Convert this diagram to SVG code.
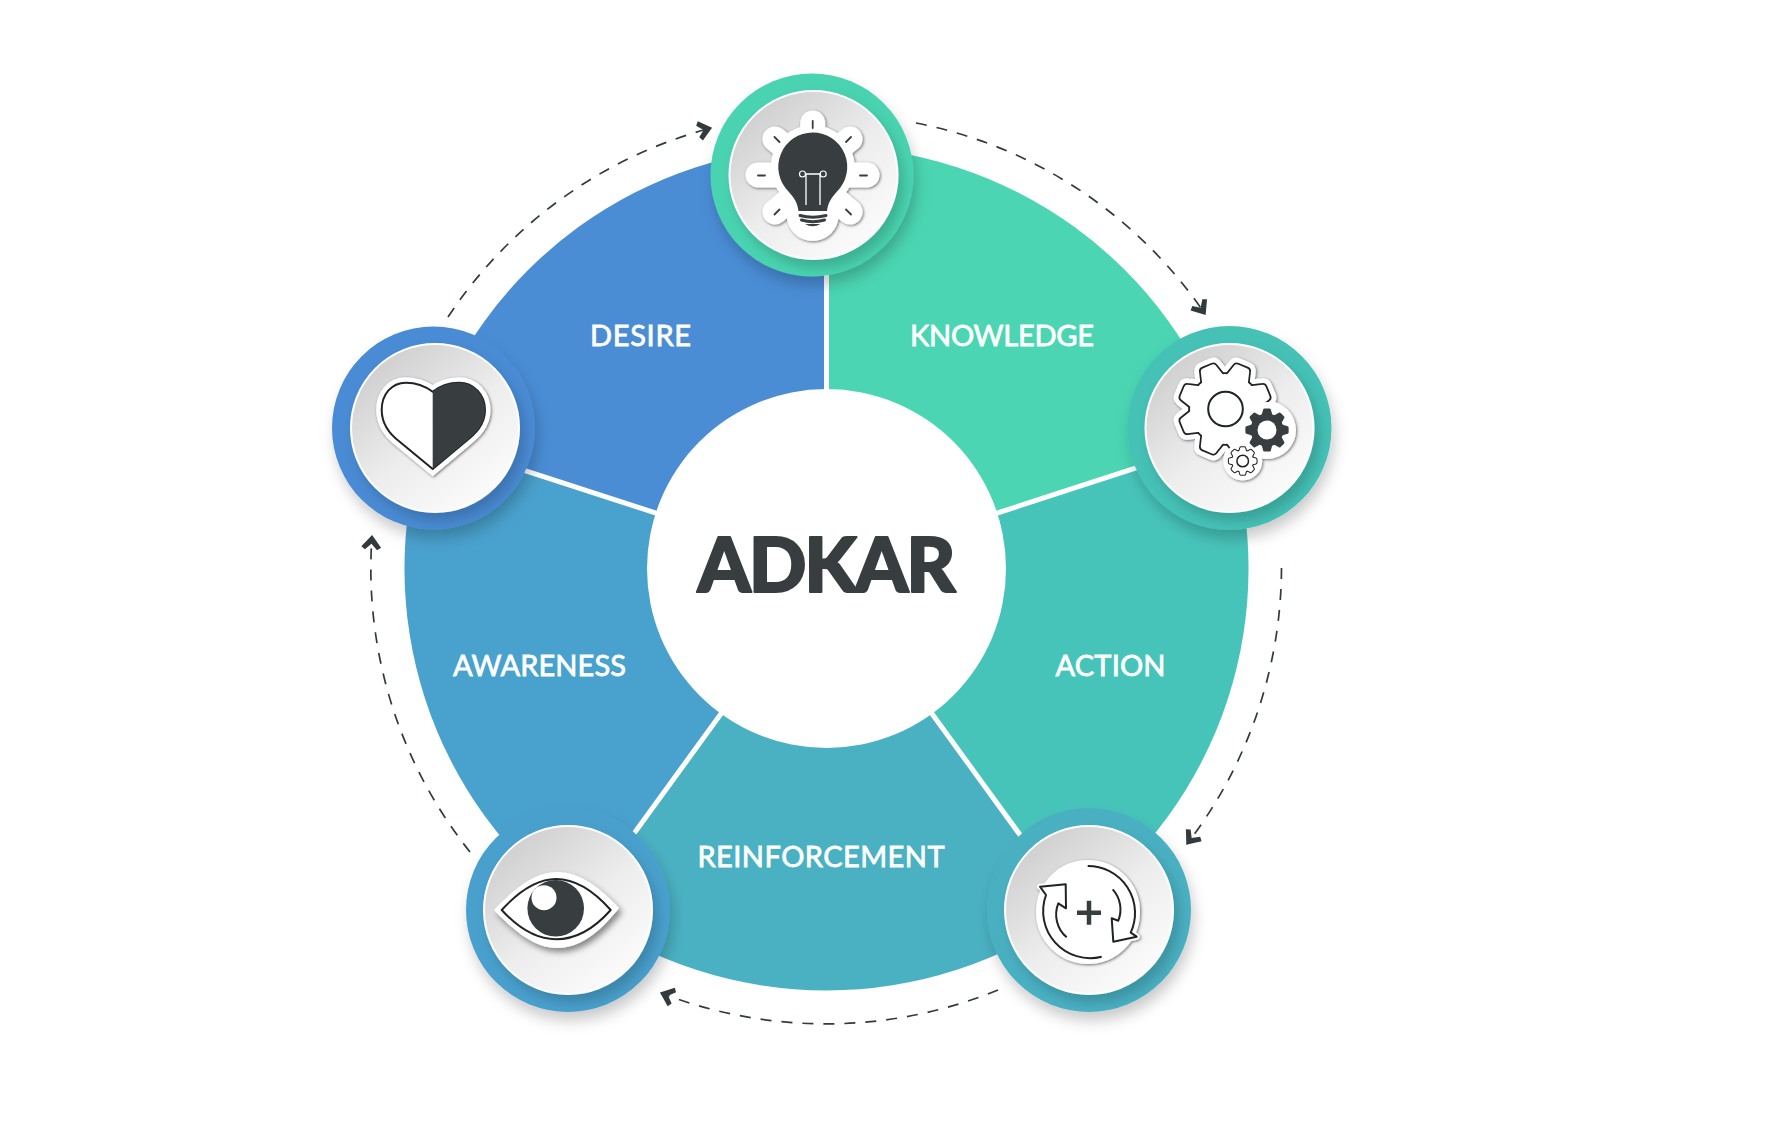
<svg xmlns="http://www.w3.org/2000/svg" xmlns:xlink="http://www.w3.org/1999/xlink" width="1788" height="1138" viewBox="0 0 1788 1138">
<style>
.lbl{font-family:"Lato","Liberation Sans",sans-serif;font-weight:400;font-size:29px;fill:#fff;stroke:#fff;stroke-width:.8px;text-anchor:middle}
.title{font-family:"Lato","Liberation Sans",sans-serif;font-weight:900;font-size:76px;fill:#383d40;stroke:#383d40;stroke-width:2px;stroke-linejoin:round;text-anchor:middle}
.flow{fill:none;stroke:#333a3d;stroke-width:1.7;stroke-dasharray:11 10}
.divider{stroke:#fff;stroke-width:5;fill:none}
.disc{fill:url(#discGrad);stroke:#fff;stroke-width:2;filter:url(#discShadow)}
.ring{filter:url(#ringShadow)}
.dark{fill:#383d40}
.tick{stroke:#383d40;stroke-width:1.8;fill:none;stroke-linecap:round}
.line{stroke:#1f2325;fill:none;stroke-width:2;stroke-linejoin:round}
.wl{stroke:#fff;fill:none}
</style>
<defs>
<linearGradient id="discGrad" x1="0.12" y1="0.08" x2="0.8" y2="0.92">
<stop offset="0" stop-color="#cdcdcd"/><stop offset="0.55" stop-color="#ededed"/><stop offset="1" stop-color="#fbfbfb"/>
</linearGradient>
<filter id="ringShadow" x="-30%" y="-30%" width="170%" height="170%"><feDropShadow dx="3" dy="9" stdDeviation="7" flood-color="#000" flood-opacity="0.2"/></filter>
<filter id="discShadow" x="-30%" y="-30%" width="170%" height="170%"><feDropShadow dx="5" dy="8" stdDeviation="6" flood-color="#000" flood-opacity="0.17"/></filter>
<filter id="halo" x="-30%" y="-30%" width="160%" height="160%"><feDropShadow dx="1" dy="1" stdDeviation="1.6" flood-color="#000" flood-opacity="0.55"/></filter>
<filter id="eyeShadow" x="-30%" y="-30%" width="160%" height="170%"><feDropShadow dx="3" dy="4" stdDeviation="3" flood-color="#000" flood-opacity="0.45"/></filter>
<marker id="chev" markerUnits="userSpaceOnUse" markerWidth="22" markerHeight="22" refX="16" refY="10" viewBox="0 0 20 20" orient="auto">
<path d="M17 10L6 1L3.500 4.500L9 10L3.500 15.500L6 19Z" fill="#333a3d"/>
</marker>
<g id="gear">
<circle r="35"/>
<path id="tooth" d="M-12 -30L-8 -44Q-7.5 -46 -5 -46L5 -46Q7.5 -46 8 -44L12 -30Z"/>
<use xlink:href="#tooth" href="#tooth" transform="rotate(45)"/>
<use xlink:href="#tooth" href="#tooth" transform="rotate(90)"/>
<use xlink:href="#tooth" href="#tooth" transform="rotate(135)"/>
<use xlink:href="#tooth" href="#tooth" transform="rotate(180)"/>
<use xlink:href="#tooth" href="#tooth" transform="rotate(225)"/>
<use xlink:href="#tooth" href="#tooth" transform="rotate(270)"/>
<use xlink:href="#tooth" href="#tooth" transform="rotate(315)"/>
</g>
</defs>
<rect width="1788" height="1138" fill="#fff"/>

<g id="wheel">
<path d="M826.5 568.5L826.5 146.5A422 422 0 0 1 1227.9 438.1Z" fill="#4bd5b2"/>
<path d="M826.5 568.5L1227.9 438.1A422 422 0 0 1 1074.5 909.9Z" fill="#47c4ba"/>
<path d="M826.5 568.5L1074.5 909.9A422 422 0 0 1 578.5 909.9Z" fill="#4ab1c3"/>
<path d="M826.5 568.5L578.5 909.9A422 422 0 0 1 425.1 438.1Z" fill="#49a1cd"/>
<path d="M826.5 568.5L425.1 438.1A422 422 0 0 1 826.5 146.5Z" fill="#4a8dd5"/>
<path class="divider" d="M826.5 568.5V146.5M826.5 568.5L1227.9 438.1M826.5 568.5L1074.5 909.9M826.5 568.5L578.5 909.9M826.5 568.5L425.1 438.1"/>
</g>

<g id="connectors">
<path class="flow" d="M916 123A455 455 0 0 1 1205 314" marker-end="url(#chev)"/>
<path class="flow" d="M1281.5 568A455 455 0 0 1 1187 844" marker-end="url(#chev)"/>
<path class="flow" d="M998 990A455 455 0 0 1 661 993" marker-end="url(#chev)"/>
<path class="flow" d="M470 852A455 455 0 0 1 372 536" marker-end="url(#chev)"/>
<path class="flow" d="M448 317A455 455 0 0 1 711 128" marker-end="url(#chev)"/>
</g>

<g id="center">
<circle cx="826.5" cy="568.5" r="179.5" fill="#fff"/>
<text class="title" x="826.5" y="592" textLength="258" lengthAdjust="spacing">ADKAR</text>
</g>

<g id="labels">
<text class="lbl" x="640.5" y="345.500" textLength="101">DESIRE</text>
<text class="lbl" x="1002" y="345.500" textLength="184">KNOWLEDGE</text>
<text class="lbl" x="1110.5" y="675.500" textLength="110">ACTION</text>
<text class="lbl" x="539.5" y="675.500" textLength="173">AWARENESS</text>
<text class="lbl" x="821" y="866.500" textLength="247">REINFORCEMENT</text>
</g>

<g id="node-knowledge">
<circle class="ring" cx="812" cy="175" r="101.5" fill="#4ad3b0"/>
<circle class="disc" cx="813.5" cy="175" r="84"/>
<g filter="url(#halo)">
<g stroke="#fff" stroke-width="25" stroke-linecap="round">
<line x1="812.7" y1="170" x2="812.7" y2="123"/><line x1="812.7" y1="170" x2="775" y2="139"/><line x1="812.7" y1="170" x2="850" y2="139"/>
<line x1="812.7" y1="175" x2="758" y2="175"/><line x1="812.7" y1="175" x2="867" y2="175"/><line x1="812.7" y1="180" x2="775" y2="212"/><line x1="812.7" y1="180" x2="850" y2="212"/>
</g>
<circle cx="812.7" cy="167" r="42" fill="#fff"/><circle cx="812.7" cy="215" r="26" fill="#fff"/>
</g>
<path class="tick" d="M812.7 121V128M774.5 137L779.5 142M851 137L846 142M758 175.5H765M860 175.5H867M774.5 214.500L779.500 209.500M851 214.500L846 209.500"/>
<path class="dark" d="M812.7 132.500A34.500 34.500 0 0 1 837 191.500C831 198 828 203 827 211L798.500 211C797.500 203 794.500 198 788.500 191.500A34.500 34.500 0 0 1 812.700 132.500Z"/>
<path d="M800 215.500Q812.700 219 826 215.500M801.500 220Q812.700 223.500 824.500 220" stroke="#383d40" stroke-width="3" fill="none" stroke-linecap="round"/>
<path d="M805 224Q812.700 228.500 820.500 224Z" class="dark"/>
<path class="wl" stroke-width="1.300" d="M806 174V205M820 174V205M805 174H820"/>
<circle cx="802.500" cy="174" r="3" fill="#383d40" stroke="#fff" stroke-width="1.200"/><circle cx="823.200" cy="174" r="3" fill="#383d40" stroke="#fff" stroke-width="1.200"/>
</g>

<g id="node-action">
<circle class="ring" cx="1229.500" cy="428" r="102" fill="#45c1b6"/>
<circle class="disc" cx="1229.500" cy="428" r="84"/>
<g filter="url(#halo)" fill="#fff">
<use href="#gear" transform="translate(1225 409) rotate(22.500)" stroke="#fff" stroke-width="13" stroke-linejoin="round"/>
<circle cx="1267" cy="430" r="29"/><circle cx="1242.700" cy="461" r="19.500"/>
</g>
<use href="#gear" transform="translate(1225 409) rotate(22.500)" stroke="#1f2325" stroke-width="3.500" stroke-linejoin="round"/>
<use href="#gear" transform="translate(1225 409) rotate(22.500)" fill="#fff"/>
<circle cx="1267" cy="430" r="28" fill="#fff"/><circle cx="1242.700" cy="461" r="18.500" fill="#fff"/>
<circle class="line" cx="1225.500" cy="409" r="17.300" style="fill:#fff"/>
<use href="#gear" transform="translate(1267 430) scale(.47)" fill="#383d40"/>
<circle cx="1267" cy="430" r="9.500" fill="#fff"/>
<use href="#gear" transform="translate(1242.700 461) scale(.3)" stroke="#1f2325" stroke-width="7" stroke-linejoin="round"/>
<use href="#gear" transform="translate(1242.700 461) scale(.3)" fill="#fff"/>
<circle class="line" style="fill:#fff;stroke-width:1.500" cx="1242.700" cy="461" r="5.800"/>
</g>

<g id="node-reinforcement">
<circle class="ring" cx="1089" cy="910" r="102" fill="#4ab0c2"/>
<circle class="disc" cx="1089" cy="910" r="84"/>
<g filter="url(#halo)" fill="#fff" stroke="#fff" stroke-width="6" stroke-linejoin="round">
<circle cx="1088" cy="912" r="49"/>
<path d="M1040 886.700L1065.700 884.300L1066 908.300Z"/>
<path d="M1136.700 936.700L1113.300 941.700L1111.700 918.300Z"/>
</g>
<path class="line" d="M1087.700 866A47 47 0 0 1 1130.700 932.700L1136.700 936.700L1113.300 941.700L1111.700 918.300L1118.300 920.700A30 30 0 0 0 1112.700 889.300"/>
<path class="line" d="M1101.700 956.700A47 47 0 0 1 1046 895L1040 886.700L1065.700 884.300L1066 908.300L1058.300 903.300A30 30 0 0 0 1066.700 937.300"/>
<path d="M1089 900.700V924.700M1077 912.700H1101" stroke="#383d40" stroke-width="4.500" fill="none"/>
</g>

<g id="node-awareness">
<circle class="ring" cx="568" cy="910" r="102" fill="#49a0cd"/>
<circle class="disc" cx="568" cy="910" r="84"/>
<path filter="url(#eyeShadow)" fill="#fff" d="M494 910C515 888 535 872 557 872C580 872 600 888 619 908C600 932 580 948 557 948C535 948 515 932 494 910Z"/>
<path class="line" style="fill:#fff" d="M501.700 910C520 890 538 879 556 879C575 879 593 890 610.700 910C593 930 575 939.300 556 939.300C538 939.300 520 930 501.700 910Z"/>
<circle class="dark" cx="555.700" cy="908.300" r="28.300"/>
<circle cx="544" cy="897.700" r="12.500" fill="#fff"/>
</g>

<g id="node-desire">
<circle class="ring" cx="433.500" cy="428" r="101.500" fill="#4a8bd4"/>
<circle class="disc" cx="435" cy="428" r="84"/>
<path filter="url(#halo)" fill="#fff" stroke="#fff" stroke-width="11" stroke-linejoin="miter" d="M432.700 391.700C425 386 416 382.700 406 382.700C391 382.700 381.700 395 381.700 410C381.700 425 392 436 400 442L432.700 469L465 442C475 434 485 425 485 410C485 395 474 382.700 459 382.700C449 382.700 440 386 432.700 391.700Z"/>
<path class="line" style="fill:#fff" d="M432.700 391.700C425 386 416 382.700 406 382.700C391 382.700 381.700 395 381.700 410C381.700 425 392 436 400 442L432.700 469L465 442C475 434 485 425 485 410C485 395 474 382.700 459 382.700C449 382.700 440 386 432.700 391.700Z"/>
<path class="dark" d="M432.700 391.700L432.700 469L465 442C475 434 485 425 485 410C485 395 474 382.700 459 382.700C449 382.700 440 386 432.700 391.700Z"/>
</g>
</svg>
